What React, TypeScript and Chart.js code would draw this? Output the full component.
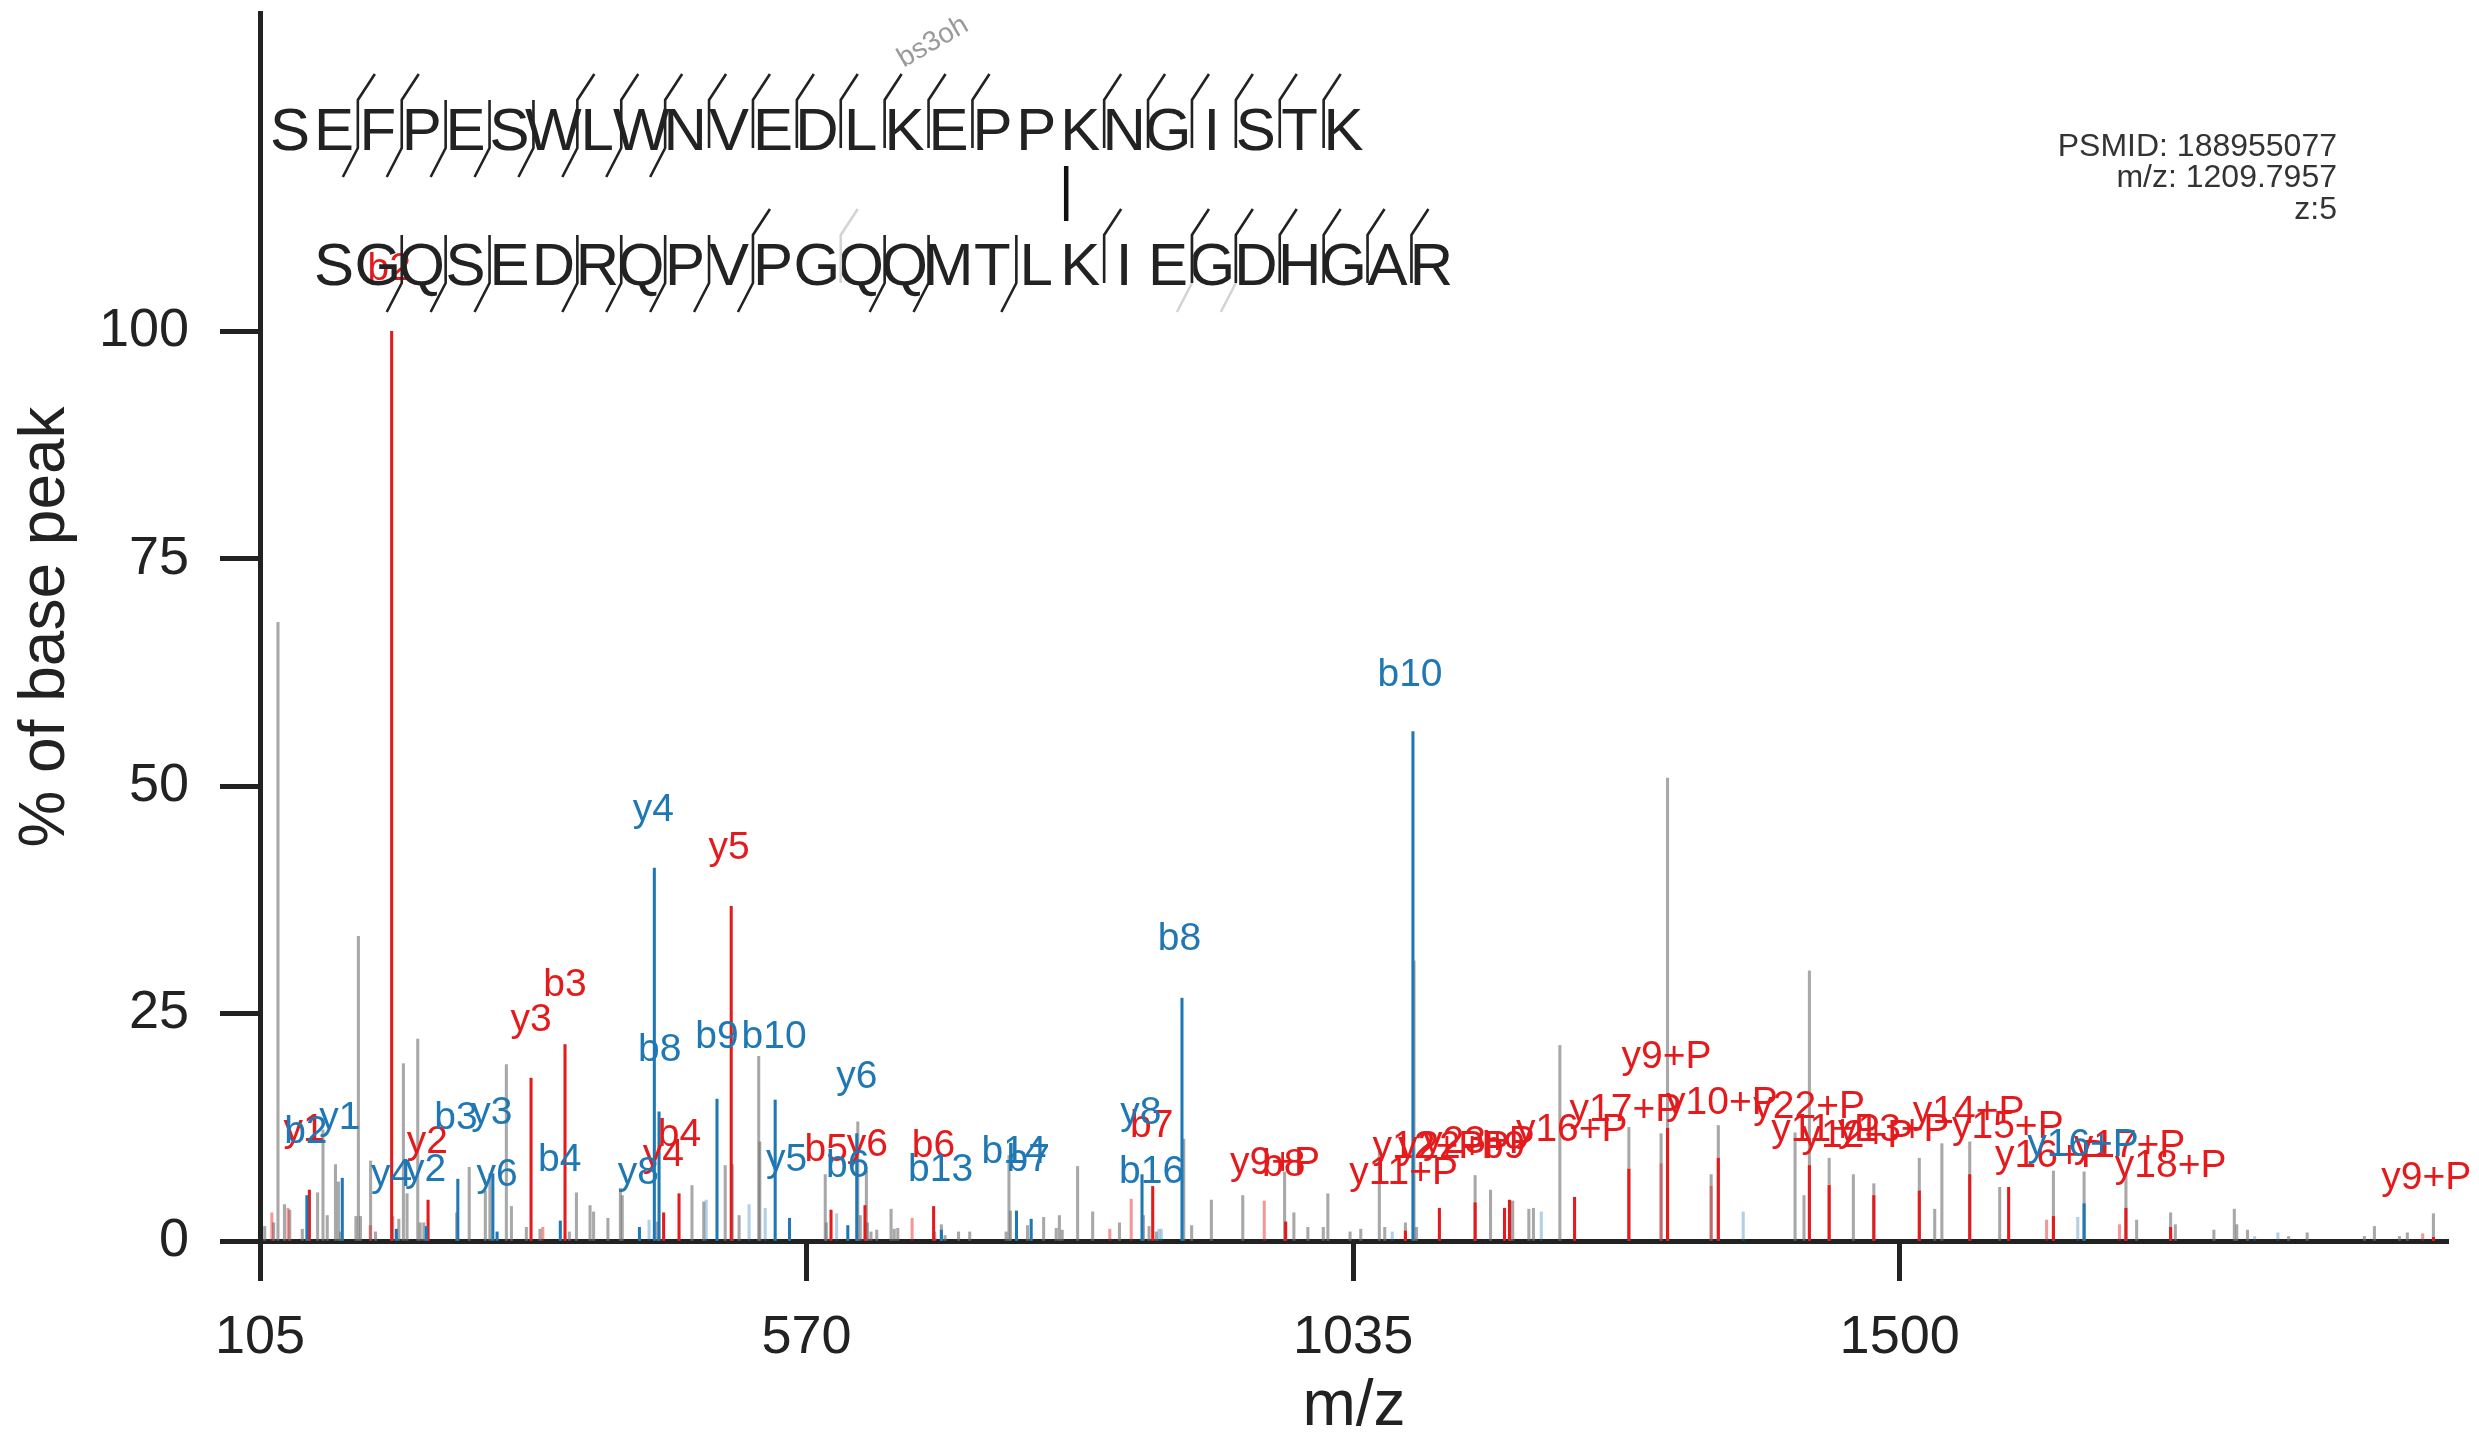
import React, { useEffect, useRef } from 'react';
import { Chart, registerables } from 'chart.js';

Chart.register(...registerables);

const FONT = '"Liberation Sans", Arial, Helvetica, sans-serif';
const RED = '#e41a1c';
const BLUE = '#1f78b4';
const INK = '#222222';

// ---------- axes ----------
const X_TICKS = [105, 570, 1035, 1500];
const Y_TICKS = [0, 25, 50, 75, 100];
const X_MIN = 105;
const X_MAX = 1966.5;
const Y_MAX = 135;

// ---------- peaks: [m/z, % of base peak] ----------
const GREY_PEAKS: [number, number][] = [
  [109.0, 1.6], [116.6, 2.0], [120.3, 68], [125.8, 4.0], [130.3, 3.4], [141.0, 1.3], [154.0, 5.3], [158.6, 12.2],
  [162.2, 2.8], [169.2, 8.4], [171.7, 6.5], [173.5, 1.0], [186.6, 2.7], [188.7, 33.5], [190.5, 2.7], [199.1, 8.8],
  [203.3, 1.0], [217.9, 2.7], [223.1, 2.4], [227.0, 19.5], [230.1, 5.2], [239.2, 22.2], [241.3, 2.0], [244.4, 2.0],
  [272.3, 3.1], [283.0, 8.1], [296.7, 5.5], [300.6, 7.4], [314.6, 19.4], [318.9, 3.8], [331.6, 1.5], [343.2, 1.3],
  [368.2, 1.0], [374.2, 5.3], [385.8, 3.9], [388.8, 3.2], [401.0, 2.5], [411.6, 5.8], [413.2, 5.0], [443.0, 2.1],
  [472.5, 6.1], [482.5, 4.3], [500.8, 8.3], [506.8, 8.4], [512.6, 2.8], [529.3, 20.3], [530.2, 10.9],
  [585.9, 7.3], [586.8, 2.0], [613.6, 13.1], [615.7, 2.8], [620.9, 7.7], [621.8, 2.0], [624.8, 1.0], [629.7, 1.2],
  [641.9, 3.5], [644.6, 1.3], [647.6, 1.4], [679.0, 1.0], [684.7, 1.8], [687.8, 0.6], [699.3, 1.0], [708.8, 1.0],
  [739.8, 1.0], [742.2, 9.4], [743.4, 3.3], [758.0, 1.7], [771.7, 2.6], [782.4, 1.4], [785.1, 2.8], [787.5, 1.2],
  [800.6, 8.2], [813.4, 3.2], [836.2, 2.0], [856.6, 2.8], [861.4, 1.6], [867.5, 1.0], [890.9, 11.2], [897.6, 1.7],
  [914.4, 4.5], [941.1, 5.0], [976.7, 7.6], [984.6, 3.1], [996.5, 1.5], [1009.6, 1.5], [1013.5, 5.2], [1032.4, 1.0],
  [1041.5, 1.3], [1057.3, 10.0], [1061.9, 1.5], [1079.5, 2.0], [1086.8, 30.8], [1088.9, 1.5], [1138.8, 7.2],
  [1151.9, 5.6], [1168.5, 4.4], [1170.8, 4.4], [1184.5, 3.5], [1188.4, 3.6], [1210.9, 21.5], [1269.6, 12.5],
  [1297.0, 11.8], [1302.5, 50.9], [1339.6, 7.3], [1345.7, 12.7], [1411.0, 11.9], [1418.6, 5.0], [1423.2, 29.7],
  [1440.0, 9.1], [1460.6, 7.3], [1478.0, 6.3], [1516.7, 9.1], [1529.8, 3.5], [1535.9, 10.7], [1559.6, 10.9],
  [1585.1, 5.9], [1630.8, 7.7], [1656.9, 7.6], [1692.5, 7.5], [1701.6, 2.3], [1730.5, 3.1], [1734.5, 1.8],
  [1767.3, 1.2], [1784.7, 3.5], [1786.8, 1.8], [1795.9, 1.2], [1830.9, 0.5], [1846.7, 0.9], [1895.4, 0.5],
  [1903.9, 1.6], [1925.2, 0.5], [1931.9, 0.9], [1954.1, 3.0],
];

const RED_PEAKS: [number, number][] = [
  [147.0, 5.6], [217.0, 100], [248.0, 4.5], [335.6, 17.9], [364.5, 21.6], [448.4, 3.1], [461.5, 5.2], [505.9, 36.8],
  [590.8, 3.4], [619.7, 3.9], [678.1, 3.8], [864.5, 6.0], [977.6, 2.1], [1079.5, 1.1], [1108.4, 3.6], [1138.8, 4.2],
  [1163.8, 3.6], [1168.0, 4.5], [1223.4, 4.8], [1269.6, 7.9], [1302.5, 12.4], [1345.7, 9.1], [1423.2, 8.3],
  [1440.0, 6.1], [1478.0, 5.0], [1516.7, 5.5], [1559.6, 7.3], [1592.7, 5.9], [1630.8, 2.7], [1692.5, 3.6],
  [1730.5, 1.5], [1954.1, 0.4],
];

const LIGHT_RED_PEAKS: [number, number][] = [
  [115.1, 3.1], [128.8, 3.6], [198.8, 1.7], [345.6, 1.5], [659.8, 2.5], [828.0, 1.3], [846.2, 4.6], [959.4, 4.4],
  [1297.0, 8.5], [1339.6, 6.0], [1625.0, 2.3], [1687.0, 1.8], [1945.0, 0.8],
];

const BLUE_PEAKS: [number, number][] = [
  [144.9, 5.0], [175.0, 6.9], [221.0, 1.3], [246.5, 1.6], [273.3, 6.8], [303.1, 7.4], [306.7, 1.0], [360.5, 2.2],
  [427.8, 1.5], [440.5, 41], [444.5, 14.2], [493.8, 15.6], [543.3, 15.5], [555.5, 2.5], [605.1, 1.7], [612.7, 11.8],
  [684.7, 1.2], [748.6, 3.3], [761.1, 2.4], [855.4, 7.3], [889.4, 26.7], [1085.9, 56], [1656.9, 4.1],
];

const LIGHT_BLUE_PEAKS: [number, number][] = [
  [436.0, 2.3], [484.6, 4.5], [521.1, 4.0], [534.8, 3.6], [595.6, 3.0], [869.7, 1.3], [871.8, 1.3], [1068.3, 1.0],
  [1195.1, 3.2], [1366.9, 3.2], [1651.5, 2.6], [1802.0, 0.5], [1821.8, 0.9],
];

// ---------- fragment labels: [m/z, % of base peak, text] ----------
const RED_LABELS: [number, number, string][] = [
  [142.5, 12.2, 'y1'], [215, 106.8, 'b2'], [247.4, 10.9, 'y2'], [335.6, 24.3, 'y3'], [364.5, 28.1, 'b3'],
  [448.1, 9.4, 'y4'], [461.8, 11.6, 'b4'], [504, 43.2, 'y5'], [586.8, 10.0, 'b5'], [621.8, 10.5, 'y6'],
  [678, 10.4, 'b6'], [863.6, 12.6, 'b7'], [968.5, 8.5, 'y9+P'], [976, 8.3, 'b8'], [1078, 7.4, 'y11+P'],
  [1099, 10.3, 'y12+P'], [1120.6, 10.3, 'y22+P'], [1142, 10.9, 'y23+P'], [1163, 10.3, 'b9'], [1221, 12.2, 'y16+P'],
  [1266.6, 14.4, 'y17+P'], [1301.6, 20.2, 'y9+P'], [1348.7, 15.1, 'y10+P'], [1423, 14.7, 'y22+P'],
  [1437, 12.2, 'y11+P'], [1464, 11.5, 'y12+P'], [1495, 12.2, 'y13+P'], [1558.7, 14.2, 'y14+P'],
  [1592, 12.5, 'y15+P'], [1628.6, 9.3, 'y16+P'], [1695.5, 10.4, 'y17+P'], [1730.5, 8.2, 'y18+P'],
  [1948, 6.9, 'y9+P'],
];

const BLUE_LABELS: [number, number, string][] = [
  [144, 12.0, 'b2'], [172.9, 13.5, 'y1'], [217, 7.2, 'y4'], [245.9, 7.8, 'y2'], [271.7, 13.5, 'b3'],
  [302.2, 14.0, 'y3'], [306.7, 7.2, 'y6'], [360, 8.9, 'b4'], [426.8, 7.4, 'y8'], [445.1, 21.0, 'b8'],
  [439.6, 47.4, 'y4'], [493.8, 22.4, 'b9'], [542.4, 22.4, 'b10'], [553, 8.9, 'y5'], [605, 8.2, 'b6'],
  [612.7, 18.0, 'y6'], [684, 7.8, 'b13'], [746.5, 9.8, 'b14'], [758.6, 8.9, 'b7'], [854.4, 14.0, 'y8'],
  [863.6, 7.6, 'b16'], [887.2, 33.2, 'b8'], [1083.4, 62.2, 'b10'], [1656, 10.5, 'y16+P'],
];

// ---------- peptide sequences ----------
const TOP_SEQ = 'SEFPESWLWNVEDLKEPPKNGISTK';
const BOTTOM_SEQ = 'SGQSEDRQPVPGQQMTLKIEGDHGAR';
const BOTTOM_OFFSET = 1; // bottom row shifted by one residue column
const CROSSLINK_TOP = 18;
const TOP_B_GAPS = [1, 2, 6, 7, 8, 9, 10, 11, 12, 13, 14, 15, 18, 19, 20, 21, 22, 23];
const TOP_Y_GAPS = [1, 2, 3, 4, 5, 6, 7, 8];
const BOTTOM_B_GAPS = [9, 17, 19, 20, 21, 22, 23, 24];
const BOTTOM_Y_GAPS = [1, 2, 3, 5, 6, 7, 8, 9, 12, 13, 15];
const BOTTOM_B_GAPS_FAINT = [11];
const BOTTOM_Y_GAPS_FAINT = [19, 20];
const MOD_LABEL = 'bs3oh';
const INFO_LINES = ['PSMID: 188955077', 'm/z: 1209.7957', 'z:5'];

const toXY = (arr: [number, number][]) => arr.map(([x, y]) => ({ x, y }));

const annotationPlugin = {
  id: 'psmAnnotations',
  afterDraw(chart: any) {
    const { ctx, scales } = chart;
    const xs = scales.x;
    const ys = scales.y;
    ctx.save();

    // fragment labels
    ctx.font = `39px ${FONT}`;
    ctx.textAlign = 'center';
    ctx.textBaseline = 'middle';
    const drawLabels = (list: [number, number, string][], color: string) => {
      ctx.fillStyle = color;
      list.forEach(([mz, p, t]) => ctx.fillText(t, xs.getPixelForValue(mz), ys.getPixelForValue(p)));
    };
    drawLabels(RED_LABELS, RED);
    drawLabels(BLUE_LABELS, BLUE);

    // peptide sequences
    const x0 = 290;
    const step = 43.9;
    const topBase = 150;
    const botBase = 285;
    ctx.font = `60px ${FONT}`;
    ctx.fillStyle = INK;
    ctx.textBaseline = 'alphabetic';
    TOP_SEQ.split('').forEach((ch, i) => ctx.fillText(ch, x0 + step * i, topBase));
    BOTTOM_SEQ.split('').forEach((ch, j) => ctx.fillText(ch, x0 + step * (j + BOTTOM_OFFSET), botBase));

    const drawMarkers = (bGaps: number[], yGaps: number[], offset: number, base: number, color: string) => {
      ctx.strokeStyle = color;
      ctx.lineWidth = 2.6;
      ctx.lineCap = 'butt';
      const gaps = Array.from(new Set([...bGaps, ...yGaps]));
      gaps.forEach((g) => {
        const bx = x0 + step * (g + offset + 0.5) + 2;
        ctx.beginPath();
        if (bGaps.includes(g)) {
          ctx.moveTo(bx + 17, base - 76);
          ctx.lineTo(bx, base - 50);
        } else {
          ctx.moveTo(bx, base - 50);
        }
        ctx.lineTo(bx, base - 2);
        if (yGaps.includes(g)) ctx.lineTo(bx - 15, base + 27);
        ctx.stroke();
      });
    };
    drawMarkers(TOP_B_GAPS, TOP_Y_GAPS, 0, topBase, INK);
    drawMarkers(BOTTOM_B_GAPS_FAINT, BOTTOM_Y_GAPS_FAINT, BOTTOM_OFFSET, botBase, '#d4d4d4');
    drawMarkers(BOTTOM_B_GAPS, BOTTOM_Y_GAPS, BOTTOM_OFFSET, botBase, INK);

    // cross-link
    const clx = x0 + step * CROSSLINK_TOP - 14;
    ctx.strokeStyle = '#111';
    ctx.lineWidth = 4.5;
    ctx.beginPath();
    ctx.moveTo(clx, 166);
    ctx.lineTo(clx, 221);
    ctx.stroke();

    // modification label
    ctx.save();
    ctx.translate(933, 42);
    ctx.rotate(-Math.PI / 6);
    ctx.font = `28px ${FONT}`;
    ctx.fillStyle = '#9a9a9a';
    ctx.textAlign = 'center';
    ctx.textBaseline = 'middle';
    ctx.fillText(MOD_LABEL, 0, 0);
    ctx.restore();

    // PSM info
    ctx.font = `32px ${FONT}`;
    ctx.fillStyle = '#333';
    ctx.textAlign = 'right';
    ctx.textBaseline = 'middle';
    INFO_LINES.forEach((t, i) => ctx.fillText(t, 2337, 147 + i * 31.5));

    ctx.restore();
  },
};

export default function App() {
  const canvasRef = useRef<HTMLCanvasElement | null>(null);

  useEffect(() => {
    document.body.style.margin = '0';
    document.body.style.overflow = 'hidden';
    const canvas = canvasRef.current;
    if (!canvas) return;

    const barDs = (data: [number, number][], color: string) => ({
      data: toXY(data),
      backgroundColor: color,
      borderWidth: 0,
      barThickness: 2.4,
      grouped: false,
    });

    const gridCommon = {
      display: true,
      drawOnChartArea: false,
      drawTicks: true,
      offset: false,
      tickLength: 40,
      tickWidth: 5,
      tickColor: INK,
    };

    const chart = new Chart(canvas, {
      type: 'bar',
      data: {
        datasets: [
          barDs(BLUE_PEAKS, BLUE),
          barDs(RED_PEAKS, RED),
          barDs(LIGHT_BLUE_PEAKS, 'rgba(31,120,180,0.35)'),
          barDs(LIGHT_RED_PEAKS, 'rgba(228,26,28,0.45)'),
          barDs(GREY_PEAKS, 'rgba(115,115,115,0.62)'),
        ] as any,
      },
      options: {
        responsive: false,
        animation: false,
        devicePixelRatio: 1,
        layout: { padding: { top: 13, right: 31, left: 0, bottom: 0 } },
        plugins: { legend: { display: false }, tooltip: { enabled: false } },
        scales: {
          x: {
            type: 'linear',
            min: X_MIN,
            max: X_MAX,
            offset: false,
            grid: gridCommon,
            border: { display: true, width: 5, color: INK },
            afterBuildTicks: (s: any) => {
              s.ticks = X_TICKS.map((v) => ({ value: v }));
            },
            afterFit: (s: any) => {
              s.height = 193;
              s.paddingLeft = 0;
              s.paddingRight = 0;
            },
            ticks: {
              autoSkip: false,
              maxRotation: 0,
              padding: 25,
              color: INK,
              font: { size: 54, family: FONT },
              callback: (v: any) => String(v),
            },
            title: {
              display: true,
              text: 'm/z',
              color: INK,
              font: { size: 64, family: FONT, lineHeight: 1 },
              padding: { top: 0, bottom: -5 },
            },
          },
          y: {
            type: 'linear',
            min: 0,
            max: Y_MAX,
            grid: gridCommon,
            border: { display: true, width: 5, color: INK },
            afterBuildTicks: (s: any) => {
              s.ticks = Y_TICKS.map((v) => ({ value: v }));
            },
            afterFit: (s: any) => {
              s.width = 260;
              s.paddingTop = 0;
              s.paddingBottom = 0;
            },
            ticks: {
              autoSkip: false,
              padding: 31,
              color: INK,
              font: { size: 54, family: FONT },
              callback: (v: any) => String(v),
            },
            title: {
              display: true,
              text: '% of base peak',
              color: INK,
              font: { size: 64, family: FONT, lineHeight: 1 },
              padding: { top: 14, bottom: 0 },
            },
          },
        },
      } as any,
      plugins: [annotationPlugin],
    });

    return () => chart.destroy();
  }, []);

  return (
    <div style={{ width: 2479, height: 1434, background: '#fff' }}>
      <canvas ref={canvasRef} width={2479} height={1434} style={{ display: 'block' }} />
    </div>
  );
}
